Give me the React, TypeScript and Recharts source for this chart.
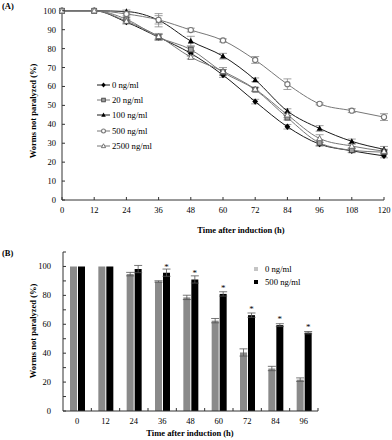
import React from 'react';
import {
  LineChart, Line, BarChart, Bar, XAxis, YAxis, ErrorBar, Legend, LabelList,
} from 'recharts';

const FONT = '"Liberation Serif", "Times New Roman", serif';

// panel A: paralysis time course
const times = [0, 12, 24, 36, 48, 60, 72, 84, 96, 108, 120];
const s0 = [100, 100, 94, 86, 77.5, 66, 52, 38.7, 29.5, 26, 23.3];
const s20 = [100, 100, 95.5, 86, 79.5, 67.5, 58.3, 43.5, 30.2, 26.3, 25.3];
const s100 = [100, 100, 99.6, 95, 84, 76, 63.5, 47, 37.8, 31, 26.8];
const s500 = [100, 100, 98.3, 95.2, 89.8, 84.3, 74, 61.2, 50.8, 47.2, 43.8];
const s2500 = [100, 100, 94.5, 86.5, 75.5, 68, 58.6, 45, 32.5, 28.5, 25.8];
const e0 = [0, 0, 1, 1.5, 1.5, 1.2, 1.2, 1.2, 1, 1, 1];
const e20 = [0, 0, 1, 1.5, 1.5, 1.5, 1, 1.2, 1.5, 1, 1];
const e100 = [0, 0, 0.8, 3.5, 2.5, 1.5, 1, 1.2, 1.5, 1.2, 1.5];
const e500 = [0, 0, 1, 2.2, 1, 0.8, 1.8, 2.8, 0.5, 1, 1.8];
const e2500 = [0, 0, 1, 1.5, 1, 2, 1, 1.5, 2, 1, 1];
const yTicksA = [0, 10, 20, 30, 40, 50, 60, 70, 80, 90, 100];

// panel B: 0 vs 500 ng/ml
const bTimes = ['0', '12', '24', '36', '48', '60', '72', '84', '96'];
const b0 = [100, 100, 94.7, 89.6, 78.6, 62.5, 40.5, 29.4, 21.7];
const b500 = [100, 100, 98.2, 95.7, 91, 81, 66.3, 59.4, 54.2];
const eb0 = [0, 0, 1.2, 0.5, 1.5, 1.5, 2.5, 1.5, 1.2];
const eb500 = [0, 0, 2.5, 2.5, 2.5, 1.5, 1.5, 1, 0.8];
const sig = ['', '', '', '*', '*', '*', '*', '*', '*'];
const yTicksB = [0, 10, 20, 30, 40, 50, 60, 70, 80, 90, 100, 110];

const lineData = times.map((t, i) => ({
  t,
  s0: s0[i], e0: e0[i],
  s20: s20[i], e20: e20[i],
  s100: s100[i], e100: e100[i],
  s500: s500[i], e500: e500[i],
  s2500: s2500[i], e2500: e2500[i],
}));

const barData = bTimes.map((t, i) => ({
  t, b0: b0[i], b500: b500[i], eb0: eb0[i], eb500: eb500[i], sig: sig[i],
}));

const series = [
  { key: 's0', err: 'e0', name: '0 ng/ml', stroke: '#1a1a1a', marker: 'diamond' },
  { key: 's20', err: 'e20', name: '20 ng/ml', stroke: '#777', marker: 'square' },
  { key: 's100', err: 'e100', name: '100 ng/ml', stroke: '#1a1a1a', marker: 'triangle' },
  { key: 's500', err: 'e500', name: '500 ng/ml', stroke: '#777', marker: 'circle' },
  { key: 's2500', err: 'e2500', name: '2500 ng/ml', stroke: '#777', marker: 'otriangle' },
];

const Marker = ({ kind, cx, cy, k = 1 }: { kind: string; cx: number; cy: number; k?: number }) => {
  if (kind === 'diamond')
    return <polygon points={`${cx},${cy - 3.2 * k} ${cx + 2.9 * k},${cy} ${cx},${cy + 3.2 * k} ${cx - 2.9 * k},${cy}`} fill="#000" />;
  if (kind === 'square')
    return <rect x={cx - 2.4 * k} y={cy - 2.4 * k} width={4.8 * k} height={4.8 * k} fill="#a0a0a0" stroke="#444" strokeWidth={0.9} />;
  if (kind === 'triangle')
    return <polygon points={`${cx},${cy - 3.2 * k} ${cx + 3 * k},${cy + 2.4 * k} ${cx - 3 * k},${cy + 2.4 * k}`} fill="#000" />;
  if (kind === 'circle')
    return <circle cx={cx} cy={cy} r={2.6 * k} fill="#fff" stroke="#777" strokeWidth={1.1} />;
  return <polygon points={`${cx},${cy - 3 * k} ${cx + 2.8 * k},${cy + 2.2 * k} ${cx - 2.8 * k},${cy + 2.2 * k}`} fill="#fff" stroke="#666" strokeWidth={0.9} />;
};

const XTickA = (props: any) => {
  const { x, y, payload } = props;
  return (
    <g>
      <line x1={x} x2={x} y1={y} y2={y - 3} stroke="#333" />
      <text x={x} y={y + 13} textAnchor="middle" fontSize={8.5} fontFamily={FONT} fill="#000">{payload.value}</text>
    </g>
  );
};

const YTickA = (props: any) => {
  const { x, y, payload } = props;
  return (
    <g>
      <line x1={x} x2={x + 3} y1={y} y2={y} stroke="#333" />
      <text x={x - 6} y={y + 3} textAnchor="end" fontSize={8.5} fontFamily={FONT} fill="#000">{payload.value}</text>
    </g>
  );
};

const BAND_B = (392 - 63 - 74) / bTimes.length;

const XTickB = (props: any) => {
  const { x, y, payload } = props;
  const bx = x + BAND_B / 2;
  return (
    <g>
      <line x1={bx} x2={bx} y1={y} y2={y - 3} stroke="#333" />
      <text x={x} y={y + 12.5} textAnchor="middle" fontSize={8.5} fontFamily={FONT} fill="#000">{payload.value}</text>
    </g>
  );
};

const YTickB = (props: any) => {
  const { x, y, payload } = props;
  const showLabel = payload.value % 20 === 0 && payload.value <= 100;
  return (
    <g>
      <line x1={x} x2={x + 3} y1={y} y2={y} stroke="#333" />
      {showLabel && (
        <text x={x - 12} y={y + 3} textAnchor="end" fontSize={8.5} fontFamily={FONT} fill="#000">{payload.value}</text>
      )}
    </g>
  );
};

const LegendA = () => (
  <div style={{ fontFamily: FONT, fontSize: 8.7, color: '#000' }}>
    {series.map((s) => (
      <div key={s.key} style={{ display: 'flex', alignItems: 'center', height: 15.4 }}>
        <svg width={15} height={10} style={{ display: 'block' }}>
          <line x1={0} x2={13} y1={5} y2={5} stroke={s.stroke} strokeWidth={1} />
          <Marker kind={s.marker} cx={6.5} cy={5} k={0.75} />
        </svg>
        <span>{s.name}</span>
      </div>
    ))}
  </div>
);

const LegendB = () => (
  <div style={{ fontFamily: FONT, fontSize: 8.7, color: '#000' }}>
    {[{ c: '#c4c4c4', n: '0 ng/ml' }, { c: '#000', n: '500 ng/ml' }].map((it) => (
      <div key={it.n} style={{ display: 'flex', alignItems: 'center', height: 13.4 }}>
        <span style={{ display: 'inline-block', width: 4, height: 4, background: it.c, marginRight: 7 }} />
        <span>{it.n}</span>
      </div>
    ))}
  </div>
);

const App = () => (
  <div style={{ position: 'absolute', left: 0, top: 0, width: 392, height: 440, background: '#fff' }}>
    <div style={{ position: 'absolute', left: 0, top: 0 }}>
      <LineChart width={392} height={238} data={lineData} margin={{ top: 10, right: 8, left: 0, bottom: 0 }}>
        <XAxis
          dataKey="t" type="number" domain={[0, 120]} ticks={times} interval={0}
          height={38} tickSize={0} tickMargin={0} tick={<XTickA />} axisLine={{ stroke: '#333' }}
        />
        <YAxis
          domain={[0, 100]} ticks={yTicksA} interval={0} width={62}
          tickSize={0} tickMargin={0} tick={<YTickA />} axisLine={{ stroke: '#333' }}
        />
        {series.map((s) => (
          <Line
            key={s.key} dataKey={s.key} name={s.name} type="monotone" stroke={s.stroke} strokeWidth={1}
            isAnimationActive={false} activeDot={false}
            dot={(p: any) => <Marker key={`${s.key}-${p.index}`} kind={s.marker} cx={p.cx} cy={p.cy} />}
          >
            <ErrorBar dataKey={s.err} direction="y" width={4} stroke="#888" strokeWidth={0.8} />
          </Line>
        ))}
        <Legend
          layout="vertical" align="center" verticalAlign="middle" content={<LegendA />}
          wrapperStyle={{ left: 97, top: 77, width: 80 }}
        />
      </LineChart>
    </div>
    <div style={{ position: 'absolute', left: 0, top: 220 }}>
      <BarChart
        width={392} height={220} data={barData} barGap={1}
        margin={{ top: 32, right: 74, left: 0, bottom: 0 }}
      >
        <XAxis
          dataKey="t" height={29} interval={0} tickSize={0} tickMargin={0}
          tick={<XTickB />} axisLine={{ stroke: '#333' }}
        />
        <YAxis
          domain={[0, 110]} ticks={yTicksB} interval={0} width={63}
          tickSize={0} tickMargin={0} tick={<YTickB />} axisLine={{ stroke: '#333' }}
        />
        <Bar dataKey="b0" fill="#8a8a8a" barSize={7} isAnimationActive={false}>
          <ErrorBar dataKey="eb0" width={4} stroke="#555" strokeWidth={0.8} />
        </Bar>
        <Bar dataKey="b500" fill="#000" barSize={7} isAnimationActive={false}>
          <ErrorBar dataKey="eb500" width={4} stroke="#555" strokeWidth={0.8} />
          <LabelList dataKey="sig" position="top" offset={3} fontSize={9} fontFamily={FONT} fill="#000" />
        </Bar>
        <Legend
          layout="vertical" align="center" verticalAlign="middle" content={<LegendB />}
          wrapperStyle={{ left: 254, top: 42, width: 70 }}
        />
      </BarChart>
    </div>
    <svg width={392} height={440} style={{ position: 'absolute', left: 0, top: 0, pointerEvents: 'none' }}>
      <g fontFamily={FONT} fontWeight="bold" fontSize={8.5} fill="#000">
        <text x={2} y={9}>(A)</text>
        <text x={2} y={256}>(B)</text>
        <text x={241} y={233} textAnchor="middle">Time after induction (h)</text>
        <text x={190} y={436} textAnchor="middle">Time after induction (h)</text>
        <text x={36} y={111} textAnchor="middle" transform="rotate(-90 36 111)">Worms not paralyzed (%)</text>
        <text x={36} y={331} textAnchor="middle" transform="rotate(-90 36 331)">Worms not paralyzed (%)</text>
      </g>
    </svg>
  </div>
);

export default App;
